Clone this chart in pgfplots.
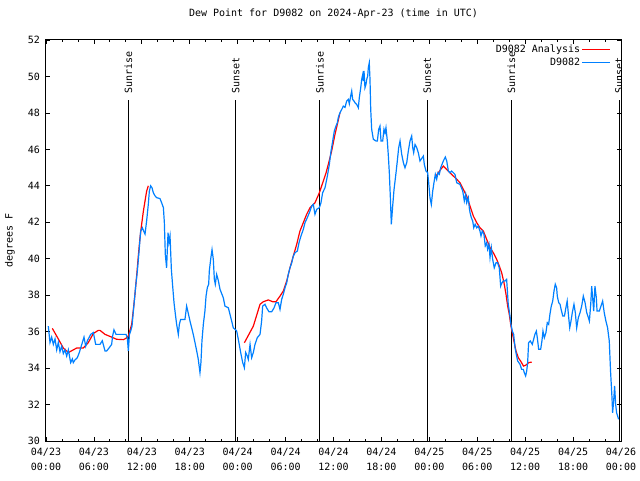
\documentclass[border=0pt]{standalone}
\usepackage{fontspec}
\setmainfont{DejaVu Sans Mono}
\usepackage{pgfplots}
\pgfplotsset{compat=1.18}
\definecolor{obsblue}{RGB}{0,128,255}
\definecolor{anred}{RGB}{255,0,0}

\begin{document}
\begin{tikzpicture}[font=\fontsize{10bp}{12bp}\selectfont]
\path[use as bounding box] (-46bp,-40bp) rectangle (594bp,441bp);
\begin{axis}[
  scale only axis, width=575bp, height=401bp,
  xmin=0, xmax=72, ymin=30, ymax=52,
  xtick={0,6,...,72},
  xticklabels={{04/23\\00:00},{04/23\\06:00},{04/23\\12:00},{04/23\\18:00},{04/24\\00:00},{04/24\\06:00},{04/24\\12:00},{04/24\\18:00},{04/25\\00:00},{04/25\\06:00},{04/25\\12:00},{04/25\\18:00},{04/26\\00:00}},
  minor x tick num=2,
  ytick={30,32,...,52},
  tick pos=both, tick align=inside,
  major tick length=4bp, minor tick length=2bp,
  tick style={black, line width=0.8bp},
  axis line style={line width=1bp},
  /pgf/number format/assume math mode=true,
  xticklabel style={align=center, font=\fontsize{10bp}{15bp}\selectfont, inner sep=0pt, anchor=north},
  yticklabel style={inner sep=0pt, anchor=east},
  xticklabel shift=7bp, yticklabel shift=6bp,
  title={Dew Point for D9082 on 2024-Apr-23 (time in UTC)},
  title style={at={(0.5,1)}, anchor=center, yshift=20bp, inner sep=0pt},
  ylabel={degrees F},
  every axis y label/.style={at={(rel axis cs:0,0.5)}, xshift=-36bp, rotate=90, anchor=center, inner sep=0pt},
  legend style={at={(1,1)}, anchor=north east, xshift=-10bp, yshift=-3bp, draw=none, fill=none, inner sep=0pt, row sep=1bp, nodes={inner sep=1.5bp}},
  legend plot pos=right, legend cell align=right,
  legend image code/.code={\draw[#1] (0bp,0bp) -- (28bp,0bp);},
  unbounded coords=jump,
]
% sunrise / sunset markers
\addplot[black, line width=1bp, forget plot] coordinates {
(10.32,30) (10.32,48.7) (10.32,nan)
(23.77,30) (23.77,48.7) (23.77,nan)
(34.29,30) (34.29,48.7) (34.29,nan)
(47.75,30) (47.75,48.7) (47.75,nan)
(58.27,30) (58.27,48.7) (58.27,nan)
(71.75,30) (71.75,48.7)
};
\node[rotate=90, anchor=west, inner sep=0pt] at (axis cs:10.32,49.05) {Sunrise};
\node[rotate=90, anchor=west, inner sep=0pt] at (axis cs:23.77,49.05) {Sunset};
\node[rotate=90, anchor=west, inner sep=0pt] at (axis cs:34.29,49.05) {Sunrise};
\node[rotate=90, anchor=west, inner sep=0pt] at (axis cs:47.75,49.05) {Sunset};
\node[rotate=90, anchor=west, inner sep=0pt] at (axis cs:58.27,49.05) {Sunrise};
\node[rotate=90, anchor=west, inner sep=0pt] at (axis cs:71.75,49.05) {Sunset};

% analysis
\addplot[anred, line width=1.2bp] coordinates {
(0.79,36.18) (1.54,35.6) (2.17,35.1) (2.8,34.85) (3.42,35.0) (3.84,35.1) (4.67,35.1) (5.3,35.4)
(5.93,35.9) (6.55,36.07) (6.76,36.07) (7.39,35.85) (8.22,35.7) (8.84,35.58) (9.68,35.56) (10.0,35.63)
(10.31,35.76) (10.73,36.4) (10.94,37.2) (11.14,38.05) (11.36,39.1) (11.56,40.15) (11.77,41.15)
(11.98,41.9) (12.19,42.6) (12.4,43.17) (12.6,43.7) (12.81,44.0)
(13,nan)
(24.84,35.39) (25.96,36.3) (26.8,37.5) (27.21,37.64) (27.84,37.74) (28.39,37.64) (28.8,37.64)
(29.3,37.95) (29.72,38.23) (30.14,38.78) (30.55,39.5) (30.97,40.15) (31.39,40.79) (31.8,41.52)
(32.22,41.98) (32.64,42.44) (33.06,42.8) (33.68,43.07) (34.23,43.62) (34.72,44.26) (35.06,44.7)
(35.35,45.18) (35.77,45.91) (36.19,46.83) (36.48,47.37) (36.81,48.01)
(37,nan)
(48.84,44.54) (49.34,44.85) (49.75,45.08) (50.18,44.9) (50.59,44.72) (51.0,44.54) (51.43,44.36)
(51.84,44.17) (52.26,43.8) (52.68,43.44) (53.09,42.89) (53.51,42.34) (53.93,41.98) (54.34,41.7)
(54.76,41.52) (55.18,41.06) (55.6,40.61) (56.01,40.33) (56.43,39.97) (56.76,39.6) (57.06,39.23)
(57.35,38.68) (57.6,38.05) (57.81,37.4) (58.01,36.95) (58.22,36.31) (58.43,35.85) (58.64,35.39)
(58.85,34.94) (59.14,34.57) (59.48,34.35) (59.79,34.11) (60.12,34.17) (60.45,34.3) (60.82,34.33)
};
\addlegendentry{D9082 Analysis}

% observations
\addplot[obsblue, line width=1.2bp] coordinates {
(0.29,36.3) (0.5,35.4) (0.71,35.7) (0.92,35.3) (1.13,35.6) (1.34,35.0) (1.54,35.4) (1.75,34.9)
(1.96,35.2) (2.17,34.8) (2.38,35.0) (2.59,34.66) (2.80,35.0) (3.09,34.3) (3.30,34.5) (3.42,34.3)
(3.63,34.45) (3.92,34.57) (4.17,34.85) (4.34,35.1) (4.55,35.4) (4.76,35.7) (4.97,35.2) (5.18,35.5)
(5.60,35.85) (5.93,35.95) (6.22,35.3) (6.76,35.3) (7.05,35.5) (7.39,34.94) (7.60,34.94) (7.89,35.1)
(8.22,35.3) (8.34,35.76) (8.51,36.1) (8.77,35.85) (9.27,35.85) (10.02,35.85) (10.18,35.67) (10.31,34.94)
(10.45,35.85) (10.6,36.03) (10.77,36.3) (10.94,37.13) (11.06,37.68) (11.23,38.5) (11.44,39.33)
(11.65,40.4) (11.85,41.5) (12.06,41.7) (12.25,41.5) (12.4,41.35) (12.6,42.07) (12.81,42.98)
(12.94,43.7) (13.1,44.0) (13.27,43.9) (13.44,43.62) (13.65,43.45) (13.86,43.35) (14.27,43.3)
(14.48,43.07) (14.7,42.8) (14.82,41.98) (14.94,40.24) (15.1,39.5) (15.28,41.43) (15.4,40.9)
(15.53,41.25) (15.7,39.4) (15.86,38.5) (16.03,37.59) (16.2,36.95) (16.36,36.4) (16.57,35.85)
(16.7,36.4) (16.86,36.67) (17.4,36.67) (17.61,37.4) (17.82,37.0) (18.03,36.58) (18.24,36.21)
(18.44,35.85) (18.66,35.39) (18.87,34.94) (19.07,34.48) (19.28,33.75) (19.4,34.3) (19.53,35.5)
(19.7,36.4) (19.9,37.13) (20.04,37.95) (20.2,38.41) (20.37,38.6) (20.45,39.33) (20.62,39.97)
(20.79,40.5) (20.95,39.97) (21.08,38.87) (21.2,38.6) (21.37,39.14) (21.58,38.8) (21.79,38.32)
(22.2,37.86) (22.41,37.4) (22.83,37.31) (23.04,36.95) (23.25,36.58) (23.45,36.21) (23.67,36.13)
(23.88,36.03) (24.08,35.58) (24.38,34.85) (24.63,34.3) (24.84,34.02) (25.0,34.85) (25.2,34.67)
(25.33,34.48) (25.55,35.3) (25.75,34.57) (25.96,34.85) (26.17,35.3) (26.46,35.67) (26.8,35.85)
(27.0,36.58) (27.13,37.4) (27.42,37.5) (27.63,37.3) (27.92,37.09) (28.26,37.09) (28.55,37.3)
(28.8,37.59) (29.09,37.59) (29.3,37.22) (29.51,37.77) (29.72,38.05) (29.93,38.41) (30.14,38.68)
(30.34,39.14) (30.55,39.5) (30.77,39.78) (30.97,40.15) (31.18,40.33) (31.47,40.42) (31.68,40.88)
(31.93,41.25) (32.22,41.61) (32.43,41.98) (32.72,42.25) (33.06,42.62) (33.27,42.89) (33.47,42.98)
(33.68,42.44) (33.9,42.71) (34.23,42.8) (34.43,43.07) (34.64,43.62) (34.94,43.9) (35.23,44.53)
(35.48,45.18) (35.69,45.91) (35.9,46.46) (36.1,47.0) (36.31,47.28) (36.48,47.46) (36.6,47.74)
(36.81,48.01) (37.03,48.19) (37.23,48.37) (37.44,48.3) (37.65,48.65) (37.86,48.74) (37.98,48.5)
(38.15,48.92) (38.28,49.2) (38.4,48.74) (38.57,48.65) (38.69,48.56) (38.9,48.47) (39.11,48.28)
(39.23,48.83) (39.41,49.38) (39.53,49.84) (39.66,50.11) (39.74,49.75) (39.82,50.3) (39.94,49.38)
(40.07,49.57) (40.16,49.84) (40.28,50.02) (40.36,50.48) (40.48,50.75) (40.57,49.84) (40.66,48.19)
(40.78,47.1) (40.99,46.55) (41.32,46.46) (41.49,46.46) (41.66,47.1) (41.82,47.28) (41.95,46.46)
(42.16,46.46) (42.32,47.1) (42.45,46.9) (42.57,47.19) (42.74,46.46) (42.87,45.63) (42.99,44.72)
(43.12,43.35) (43.24,41.89) (43.41,42.89) (43.58,43.8) (43.83,44.72) (43.99,45.36) (44.16,46.09)
(44.33,46.46) (44.54,45.73) (44.75,45.27) (44.95,44.99) (45.17,45.27) (45.37,45.91) (45.58,46.46)
(45.79,46.73) (45.92,46.1) (46.04,45.82) (46.21,46.27) (46.42,46.09) (46.62,45.82) (46.83,45.36)
(47.04,45.5) (47.25,45.63) (47.37,45.18) (47.58,44.81) (47.79,44.72) (47.92,44.17) (48.08,43.35)
(48.25,42.98) (48.42,43.7) (48.58,44.17) (48.75,44.63) (48.92,44.36) (49.08,44.72) (49.25,44.63)
(49.42,44.99) (49.59,45.18) (49.75,45.36) (50.0,45.58) (50.18,45.36) (50.38,44.81) (50.59,44.72)
(50.8,44.81) (51.21,44.63) (51.43,44.17) (51.84,44.08) (52.18,43.72) (52.38,43.17) (52.55,43.53)
(52.68,43.07) (52.88,43.35) (53.0,42.8) (53.1,42.52) (53.26,42.25) (53.43,42.07) (53.56,41.7)
(53.74,41.89) (53.93,41.7) (54.13,41.79) (54.34,41.52) (54.47,41.25) (54.63,41.52) (54.84,41.34)
(55.0,40.7) (55.18,40.88) (55.3,40.52) (55.47,40.79) (55.6,40.06) (55.76,40.61) (55.93,39.97)
(56.13,39.5) (56.35,39.78) (56.55,39.78) (56.76,39.5) (56.93,38.5) (57.1,38.68) (57.26,38.78)
(57.47,38.78) (57.68,38.87) (57.88,37.5) (58.1,36.86) (58.22,36.4) (58.39,36.03) (58.56,35.85)
(58.73,35.12) (58.89,34.75) (59.06,34.39) (59.35,34.21) (59.56,33.93) (59.77,33.93) (59.89,33.75)
(60.06,33.57) (60.19,33.84) (60.31,34.3) (60.43,35.39) (60.64,35.49) (60.89,35.3) (61.06,35.58)
(61.22,35.85) (61.4,36.03) (61.52,35.67) (61.69,35.03) (61.94,35.03) (62.1,35.49) (62.23,36.03)
(62.4,35.67) (62.6,35.94) (62.77,36.49) (62.94,36.4) (63.1,36.95) (63.27,37.4) (63.45,37.68)
(63.61,38.23) (63.77,38.6) (63.94,38.4) (64.02,37.95) (64.2,37.59) (64.37,37.5) (64.5,37.22)
(64.71,36.86) (64.92,36.86) (65.1,37.31) (65.26,37.68) (65.43,36.86) (65.58,36.21) (65.74,36.58)
(65.9,37.04) (66.11,37.5) (66.28,37.04) (66.45,36.21) (66.66,36.77) (66.87,37.04) (67.08,37.4)
(67.28,37.95) (67.5,37.59) (67.71,37.04) (67.91,36.77) (68.04,36.58) (68.21,37.5) (68.33,38.5)
(68.45,37.86) (68.58,37.13) (68.74,38.5) (68.91,37.86) (69.0,37.13) (69.28,37.13) (69.49,37.4)
(69.7,37.68) (69.9,37.04) (70.11,36.58) (70.32,36.21) (70.53,35.49) (70.69,33.84) (70.87,32.38)
(70.95,31.55) (71.08,32.19) (71.2,33.02) (71.33,32.01) (71.45,31.55) (71.58,31.37) (71.7,31.19)
};
\addlegendentry{D9082}
\end{axis}
\end{tikzpicture}
\end{document}
